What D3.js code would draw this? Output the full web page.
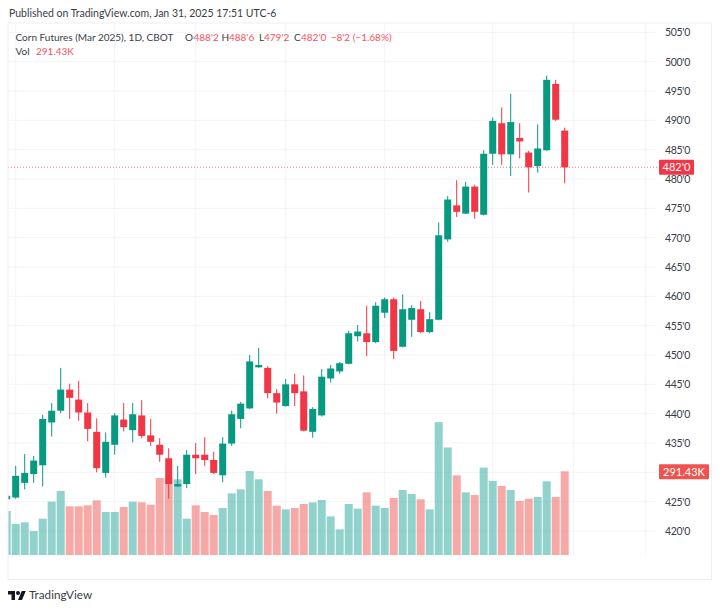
<!DOCTYPE html>
<html>
<head>
<meta charset="utf-8">
<script src="https://cdn.jsdelivr.net/npm/d3@7"></script>
<style>
  html, body { margin: 0; padding: 0; background: #fff; }
  text { font-family: Lato, sans-serif; }
</style>
</head>
<body>
<svg id="chart"></svg>
<script>
// daily bars, Oct 31 to Jan 31
var dates = ["Oct31","Nov1","Nov4","Nov5","Nov6","Nov7","Nov8","Nov11","Nov12","Nov13","Nov14","Nov15","Nov18","Nov19","Nov20","Nov21","Nov22",
  "Nov25","Nov26","Nov27","Nov29","Dec2","Dec3","Dec4","Dec5","Dec6","Dec9","Dec10","Dec11","Dec12","Dec13","Dec16","Dec17","Dec18","Dec19","Dec20",
  "Dec23","Dec24","Dec26","Dec27","Dec30","Dec31","Jan2","Jan3","Jan6","Jan7","Jan8","Jan9","Jan10","Jan13","Jan14","Jan15","Jan16","Jan17",
  "Jan21","Jan22","Jan23","Jan24","Jan27","Jan28","Jan29","Jan30","Jan31"];
var futureDates = ["Feb3","Feb4","Feb5","Feb6","Feb7","Feb10","Feb11","Feb12","Feb13"];

var opens = [425.4,425.7,428.2,429.7,431.2,438.5,440.5,444.1,442.4,440.2,436.9,429.9,434.7,439.0,437.2,439.7,436.3,
  434.7,432.4,427.6,428.0,433.0,433.0,432.1,429.5,434.9,439.1,440.9,447.9,447.8,443.5,441.3,445.0,443.8,436.9,439.7,
  446.0,447.2,448.5,453.2,453.7,452.2,457.2,459.5,451.4,456.0,457.8,453.9,456.0,469.7,475.5,474.1,478.7,473.9,
  484.3,489.5,484.2,487.0,484.5,482.2,484.9,496.2,488.25];
var highs = [426.4,431.1,433.1,432.8,439.8,441.8,447.8,445.1,445.6,441.8,439.2,436.8,440.1,441.8,441.8,442.3,439.1,
  435.8,434.1,431.1,433.8,435.0,436.0,433.5,436.0,440.5,442.0,450.0,451.2,448.1,444.2,445.9,446.8,446.5,441.1,447.6,
  448.3,448.8,454.1,455.1,458.4,459.0,459.8,459.8,460.3,458.5,459.2,457.3,472.6,477.1,479.8,479.5,479.0,484.9,
  490.5,492.2,494.5,489.5,484.8,489.3,497.6,496.9,488.75];
var lows = [425.3,425.5,427.1,428.2,427.6,436.1,440.1,439.1,438.8,435.3,430.0,429.1,433.0,437.0,435.1,435.8,434.5,
  431.8,425.5,427.5,427.3,429.7,431.1,429.7,428.3,434.5,437.5,440.8,447.8,442.6,440.0,441.2,441.3,437.0,435.9,439.5,
  445.3,446.8,448.4,452.3,449.8,452.0,456.3,449.3,451.3,453.1,453.7,453.7,455.9,469.3,473.5,474.0,473.2,473.8,
  482.4,482.4,480.5,483.5,477.7,481.1,484.8,489.9,479.25];
var closes = [426.0,429.4,429.9,432.0,439.1,440.5,444.1,442.7,440.2,437.4,430.7,435.2,439.7,437.7,439.9,436.2,435.2,
  433.0,428.0,428.0,433.0,432.4,432.1,429.9,434.9,439.9,441.7,448.9,448.3,443.5,441.9,445.0,443.5,437.1,440.8,446.3,
  447.7,448.6,453.7,454.0,452.2,458.4,459.5,450.7,457.8,458.0,453.9,456.1,470.4,476.5,474.4,478.7,474.4,484.3,
  489.9,484.2,489.7,486.4,482.0,485.2,496.9,490.1,482.0];
// volume in thousands
var volumes = [153.2,107.9,113.7,83.6,126.5,185.7,222.8,169.4,169.4,172.9,190.3,149.7,149.7,167.1,185.7,183.4,175.3,
  268.1,268.1,263.5,126.5,172.9,149.7,139.3,163.6,214.7,228.6,292.5,263.5,222.8,171.8,159,163.6,177.6,183.4,191.5,
  134.6,89.4,177.6,161.3,218.2,171.8,163.6,198.5,226.3,212.4,193.8,159,462.5,374.3,277.4,218.2,208.9,304.1,
  257.7,240.2,226.3,188,196.1,201.9,256.5,201.9,291.43];

var priceTicks = [505,500,495,490,485,480,475,470,465,460,455,450,445,440,435,430,425,420];
var priceLabels = [505,500,495,490,485,480,475,470,465,460,455,450,445,440,435,425,420]; // 430 sits under the volume tag
var timeTicks = ["Nov1","Nov18","Dec2","Dec16","Jan2","Jan21","Feb3","Feb13"];
var timeLabels = ["Nov","18","Dec","16","2025","21","Feb","13"];

var lastClose = 482;
var lastVolume = 291.43;

var upColor = "#089981";
var downColor = "#F23645";
var volUpColor = "#26A69A";
var volDownColor = "#EF5350";
var gridColor = "#F3F4F6";
var frameColor = "#EEEFF2";
var textColor = "#3A3D45";
var legendSize = "10px";
var axisSize = "10.5px";

var width = 720, height = 610;
var left = 8, top_ = 23, right = 711.5, bottom = 579.5;
var paneRight = 657, paneBottom = 555;

var svg = d3.select("#chart")
            .attr("width", width)
            .attr("height", height)
            .style("display", "block");

var x = d3.scalePoint()
          .domain(dates.concat(futureDates))
          .range([6.7, 645.7]);

var y = d3.scaleLinear()
          .domain([420, 505])
          .range([531, 32.3]);

var yVol = d3.scaleLinear()
             .domain([0, lastVolume])
             .range([paneBottom, 471.3]);

svg.append("text")
   .attr("x", 9)
   .attr("y", 17)
   .style("font-size", "10.5px")
   .style("fill", textColor)
   .text("Published on TradingView.com, Jan 31, 2025 17:51 UTC-6");

svg.append("rect")
   .attr("x", left)
   .attr("y", top_)
   .attr("width", right - left)
   .attr("height", bottom - top_)
   .attr("fill", "none")
   .attr("stroke", frameColor);

svg.append("clipPath").attr("id", "pane")
   .append("rect")
   .attr("x", left + 0.5)
   .attr("y", top_)
   .attr("width", paneRight - left)
   .attr("height", paneBottom - top_);

svg.append("clipPath").attr("id", "timeClip")
   .append("rect")
   .attr("x", left + 0.5)
   .attr("y", paneBottom)
   .attr("width", right - left)
   .attr("height", bottom - paneBottom);

var pane = svg.append("g").attr("clip-path", "url(#pane)");

// grid
pane.selectAll(".hgrid")
    .data(priceTicks)
    .enter()
    .append("line")
    .attr("x1", left)
    .attr("x2", paneRight)
    .attr("y1", function(d){return y(d)})
    .attr("y2", function(d){return y(d)})
    .attr("stroke", gridColor);

pane.selectAll(".vgrid")
    .data(timeTicks)
    .enter()
    .append("line")
    .attr("x1", function(d){return x(d)})
    .attr("x2", function(d){return x(d)})
    .attr("y1", top_)
    .attr("y2", paneBottom)
    .attr("stroke", gridColor);

// volume
pane.selectAll(".vol")
    .data(dates)
    .enter()
    .append("rect")
    .attr("x", function(d){return x(d) - 4})
    .attr("width", 8)
    .attr("y", function(d, i){return yVol(volumes[i])})
    .attr("height", function(d, i){return paneBottom - yVol(volumes[i])})
    .attr("fill", function(d, i){return closes[i] >= opens[i] ? volUpColor : volDownColor})
    .attr("opacity", 0.5);

// last price line
pane.append("line")
    .attr("x1", left)
    .attr("x2", paneRight)
    .attr("y1", y(lastClose))
    .attr("y2", y(lastClose))
    .attr("stroke", downColor)
    .attr("stroke-width", 1)
    .attr("stroke-dasharray", "1 2")
    .attr("opacity", 0.7);

// candles
pane.selectAll(".wick")
    .data(dates)
    .enter()
    .append("line")
    .attr("x1", function(d){return x(d)})
    .attr("x2", function(d){return x(d)})
    .attr("y1", function(d, i){return y(highs[i])})
    .attr("y2", function(d, i){return y(lows[i])})
    .attr("stroke", function(d, i){return closes[i] >= opens[i] ? upColor : downColor})
    .attr("stroke-width", 1);

pane.selectAll(".body")
    .data(dates)
    .enter()
    .append("rect")
    .attr("x", function(d){return x(d) - 3.5})
    .attr("width", 7)
    .attr("y", function(d, i){return y(Math.max(opens[i], closes[i]))})
    .attr("height", function(d, i){return Math.max(1, Math.abs(y(opens[i]) - y(closes[i])))})
    .attr("fill", function(d, i){return closes[i] >= opens[i] ? upColor : downColor});

// axes
var priceAxis = svg.append("g")
   .attr("transform", "translate(665,0)")
   .call(d3.axisRight(y).tickValues(priceLabels).tickSize(0).tickPadding(0).tickFormat(function(d){return d + "'0"}));
priceAxis.select(".domain").remove();
priceAxis.selectAll("text").style("font-size", axisSize).style("letter-spacing", "-0.3px").style("fill", textColor);

var timeAxis = svg.append("g")
   .attr("clip-path", "url(#timeClip)")
   .attr("transform", "translate(0," + paneBottom + ")");
timeAxis.call(d3.axisBottom(x).tickValues(timeTicks).tickSize(0).tickPadding(7)
    .tickFormat(function(d){return timeLabels[timeTicks.indexOf(d)]}));
timeAxis.select(".domain").remove();
timeAxis.selectAll("text")
    .style("font-size", axisSize)
    .style("fill", textColor)
    .style("font-weight", function(d){return d == "Jan2" ? "bold" : "normal"});

// price tags
function tag(yPos, w, color, label) {
    svg.append("rect")
       .attr("x", 659)
       .attr("y", yPos - 7.5)
       .attr("width", w)
       .attr("height", 15)
       .attr("rx", 1)
       .attr("fill", color);
    svg.append("text")
       .attr("x", 659 + w / 2)
       .attr("y", yPos + 3.8)
       .attr("text-anchor", "middle")
       .style("font-size", "11px")
       .style("fill", "#fff")
       .text(label);
}
tag(y(lastClose), 35, downColor, "482'0");
tag(yVol(lastVolume) + 0.5, 50, volDownColor, "291.43K");

// legend
function legendText(px, py, color, str) {
    svg.append("text")
       .attr("x", px)
       .attr("y", py)
       .style("font-size", legendSize)
       .style("fill", color)
       .text(str);
}
var legendRed = "#F7525F";
legendText(15.5, 40.5, textColor, "Corn Futures (Mar 2025), 1D, CBOT");
legendText(185, 40.5, textColor, "O");
legendText(193.5, 40.5, legendRed, "488'2");
legendText(221.5, 40.5, textColor, "H");
legendText(229, 40.5, legendRed, "488'6");
legendText(259, 40.5, textColor, "L");
legendText(264, 40.5, legendRed, "479'2");
legendText(294, 40.5, textColor, "C");
legendText(301, 40.5, legendRed, "482'0");
legendText(330.7, 40.5, legendRed, "\u22128'2 (\u22121.68%)");
legendText(15.5, 55, textColor, "Vol");
legendText(36, 55, legendRed, "291.43K");

// logo
var logo = svg.append("g").attr("transform", "translate(8,589.5) scale(0.5)");
logo.append("path")
    .attr("d", "M14 21H7V10H0V3h14v18zM28 21h-8l7.5-18h8L28 21z")
    .attr("fill", "#131722");
logo.append("circle").attr("cx", 20).attr("cy", 7).attr("r", 4).attr("fill", "#131722");

svg.append("text")
   .attr("x", 29)
   .attr("y", 599)
   .style("font-size", "11.7px")
   .style("fill", "#3A3D45")
   .text("TradingView");
</script>
</body>
</html>
